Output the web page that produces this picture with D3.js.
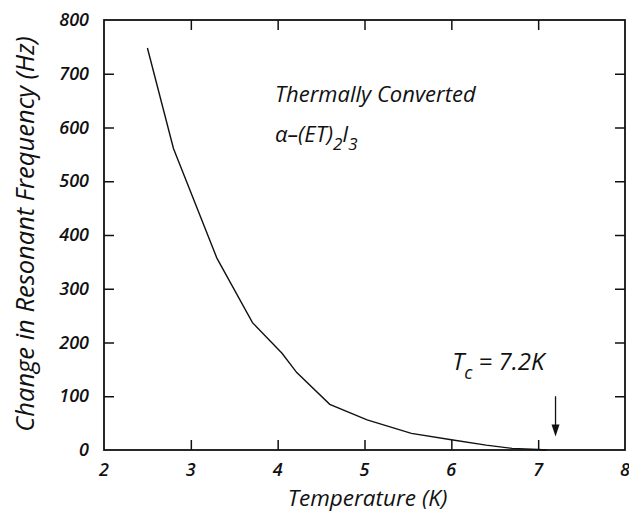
<!DOCTYPE html>
<meta charset="utf-8">
<title>resonant frequency</title>
<script src="https://cdn.jsdelivr.net/npm/d3@7"></script>
<style>
html, body {
    margin: 0;
    background: #fff;
}
text {
    font-family: "Open Sans", "DejaVu Sans", sans-serif;
    font-style: italic;
    fill: #111;
}
.tick-label {
    font-size: 18px;
    font-weight: 600;
}
.title {
    font-size: 22.5px;
}
</style>
<body>
<script>
// temperature (K) and change in resonant frequency (Hz)
var temps = [2.5, 2.8, 3.3, 3.71, 4.05, 4.22, 4.6, 5.03, 5.54, 6.0, 6.4, 6.7, 7.0, 7.1],
    freqs = [748, 561, 357, 237, 180, 144, 85, 56, 31, 19, 9, 3, 1, 0];

var xTicks = [2, 3, 4, 5, 6, 7, 8],
    yTicks = [0, 100, 200, 300, 400, 500, 600, 700, 800];

var tc = 7.2,
    arrowFrom = 100,
    arrowTo = 25;

var width = 629,
    height = 514,
    margin = {top: 20, right: 4, bottom: 64, left: 104},
    w = width - margin.left - margin.right,
    h = height - margin.top - margin.bottom,
    tickLen = 10;

var x = d3.scaleLinear().domain([2, 8]).range([0, w]),
    y = d3.scaleLinear().domain([0, 800]).range([h, 0]);

var svg = d3.select("body").append("svg")
    .attr("width", width)
    .attr("height", height);

var g = svg.append("g")
    .attr("transform", "translate(" + margin.left + "," + margin.top + ")");

// inward ticks on all four sides, labels only left and bottom
var inner = function(axis) { return axis.tickSizeInner(tickLen).tickSizeOuter(0); };

g.append("g")
    .attr("transform", "translate(0," + h + ")")
    .call(inner(d3.axisTop(x).tickValues(xTicks.slice(1, -1))).tickFormat(""));
g.append("g")
    .call(inner(d3.axisBottom(x).tickValues(xTicks.slice(1, -1))).tickFormat(""));
g.append("g")
    .call(inner(d3.axisRight(y).tickValues(yTicks.slice(1, -1))).tickFormat(""));
g.append("g")
    .attr("transform", "translate(" + w + ",0)")
    .call(inner(d3.axisLeft(y).tickValues(yTicks.slice(1, -1))).tickFormat(""));

g.selectAll(".domain").remove();
g.selectAll(".tick line").attr("stroke", "#111").attr("stroke-width", 1.5);

g.append("rect")
    .attr("width", w)
    .attr("height", h)
    .attr("fill", "none")
    .attr("stroke", "#111")
    .attr("stroke-width", 1.8);

g.selectAll(".xlab")
    .data(xTicks)
    .enter().append("text")
    .attr("class", "tick-label")
    .attr("x", function(d) { return x(d); })
    .attr("y", h + 26)
    .attr("text-anchor", "middle")
    .text(function(d) { return d; });

g.selectAll(".ylab")
    .data(yTicks)
    .enter().append("text")
    .attr("class", "tick-label")
    .attr("x", -15)
    .attr("y", function(d) { return y(d) + 6; })
    .attr("text-anchor", "end")
    .text(function(d) { return d; });

svg.append("text")
    .attr("class", "title")
    .attr("x", margin.left + (x(2.0) + x(8)) / 2 + 3)
    .attr("y", height - 8)
    .attr("text-anchor", "middle")
    .text("Temperature (K)");

svg.append("text")
    .attr("class", "title")
    .attr("transform", "translate(34,234) rotate(-90)")
    .attr("text-anchor", "middle")
    .style("font-size", "25.5px")
    .text("Change in Resonant Frequency (Hz)");

var line = d3.line()
    .x(function(d) { return x(d[0]); })
    .y(function(d) { return y(d[1]); });

g.append("path")
    .datum(d3.zip(temps, freqs))
    .attr("d", line)
    .attr("fill", "none")
    .attr("stroke", "#111")
    .attr("stroke-width", 1.4);

// annotations
var note = g.append("text")
    .attr("class", "title")
    .attr("x", x(3.97))
    .attr("y", y(648))
    .style("font-size", "22px");
note.text("Thermally Converted");

var formula = g.append("text")
    .attr("class", "title")
    .attr("x", x(3.97))
    .attr("y", y(573))
    .style("font-size", "22px");
formula.append("tspan").text("\u03b1\u2013(ET)");
formula.append("tspan").attr("dy", 8).style("font-size", "17px").text("2");
formula.append("tspan").attr("dy", -8).text("I");
formula.append("tspan").attr("dy", 8).style("font-size", "17px").text("3");

var tcText = g.append("text")
    .attr("class", "title")
    .attr("x", x(6.01))
    .attr("y", y(149))
    .style("font-size", "24px");
tcText.append("tspan").text("T");
tcText.append("tspan").attr("dy", 9).style("font-size", "18px").text("c");
tcText.append("tspan").attr("dy", -9).text(" = 7.2K");

g.append("line")
    .attr("x1", x(tc))
    .attr("x2", x(tc))
    .attr("y1", y(arrowFrom))
    .attr("y2", y(arrowTo) - 8)
    .attr("stroke", "#111")
    .attr("stroke-width", 1.3);

g.append("path")
    .attr("d", "M" + (x(tc) - 4) + "," + (y(arrowTo) - 12) +
               "L" + (x(tc) + 4) + "," + (y(arrowTo) - 12) +
               "L" + x(tc) + "," + y(arrowTo) + "Z")
    .attr("fill", "#111");
</script>
